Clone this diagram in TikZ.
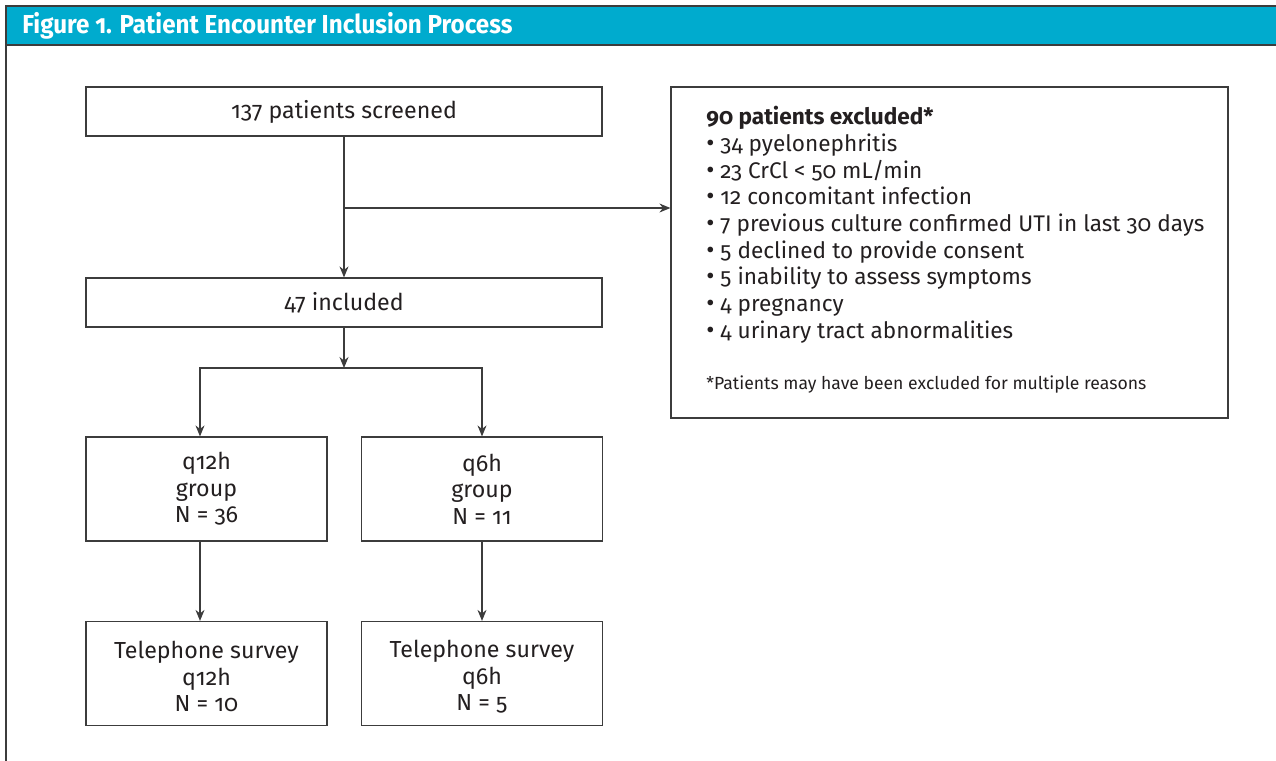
\documentclass[tikz,border=0pt]{standalone}
\usepackage{fontspec}
\setmainfont{Fira Sans}[Numbers=OldStyle]
\newfontfamily\headfont{Fira Sans}[Numbers=OldStyle,FakeStretch=0.93]
\usetikzlibrary{arrows.meta,positioning}
\definecolor{headcyan}{RGB}{0,171,206}
\definecolor{inkgray}{HTML}{231F20}
\definecolor{linegray}{HTML}{3C3C3C}
\newcommand{\bul}{\smash{\fontsize{12.5}{13}\selectfont •}\ }

\begin{document}
\begin{tikzpicture}[x=0.5pt,y=-0.5pt,
  box/.style={draw=linegray,line width=0.6pt,minimum width=258pt,minimum height=24.5pt,
    inner sep=0pt,align=center,text=inkgray,font=\fontsize{11.6}{13.3}\selectfont},
  smallbox/.style={box,minimum width=120.5pt,minimum height=52pt},
  arr/.style={draw=linegray,line width=0.6pt,-{Stealth[length=5.5pt,width=4.5pt]}},
  conn/.style={draw=linegray,line width=0.6pt}]

  \useasboundingbox (0,0) rectangle (1276,761);

  % frame and header
  \fill[headcyan] (6,6) rectangle (1276,45);
  \draw[linegray,line width=0.6pt] (6,761) -- (6,6) -- (1276,6);
  \draw[linegray,line width=0.8pt] (6,45) -- (1276,45);
  \node[anchor=west,text=white,inner sep=0pt,
    font=\headfont\bfseries\fontsize{13}{14}\selectfont] (title) at (22,26)
    {Figure 1. Patient Encounter Inclusion Process};

  % main column
  \node[box] (screened) at (344,111.5) {137 patients screened};
  \node[box] (included) at (344,302.5) {47 included};
  \node[smallbox] (q12) at (206.5,489) {q12h\\group\\N = 36};
  \node[smallbox] (q6) at (482,489) {q6h\\group\\N = 11};
  \node[smallbox] (tel12) at (206.5,673.5) {\rule{0pt}{12pt}Telephone survey\\q12h\\N = 10};
  \node[smallbox] (tel6) at (482,673.5) {\rule{0pt}{12pt}Telephone survey\\q6h\\N = 5};

  % exclusions
  \node[conn,minimum width=278.5pt,minimum height=165.5pt,inner sep=0pt] (excl) at (949.5,252.5) {};
  \node[anchor=north west,align=left,inner sep=0pt,text=inkgray,
    font=\fontsize{11.3}{13.35}\selectfont] (excltext) at (706,106)
    {{\bfseries 90 patients excluded*}\\
     \bul 34 pyelonephritis\\
     \bul 23 CrCl < 50 mL/min\\
     \bul 12 concomitant infection\\
     \bul 7 previous culture confirmed UTI in last 30 days\\
     \bul 5 declined to provide consent\\
     \bul 5 inability to assess symptoms\\
     \bul 4 pregnancy\\
     \bul 4 urinary tract abnormalities\\[12pt]
     {\fontsize{8.8}{10}\selectfont *Patients may have been excluded for multiple reasons}};

  % connectors
  \coordinate (branch) at (344,208);
  \coordinate (split) at (344,368);
  \draw[arr] (screened) -- (included);
  \draw[arr] (branch) -- (branch -| excl.west);
  \draw[arr] (included) -- (split);
  \draw[arr] (split) -| ([xshift=-3.25pt]q12.north);
  \draw[arr] (split) -| (q6.north);
  \draw[arr] ([xshift=-3.25pt]q12.south) -- ([xshift=-3.25pt]tel12.north);
  \draw[arr] (q6) -- (tel6);
\end{tikzpicture}
\end{document}
